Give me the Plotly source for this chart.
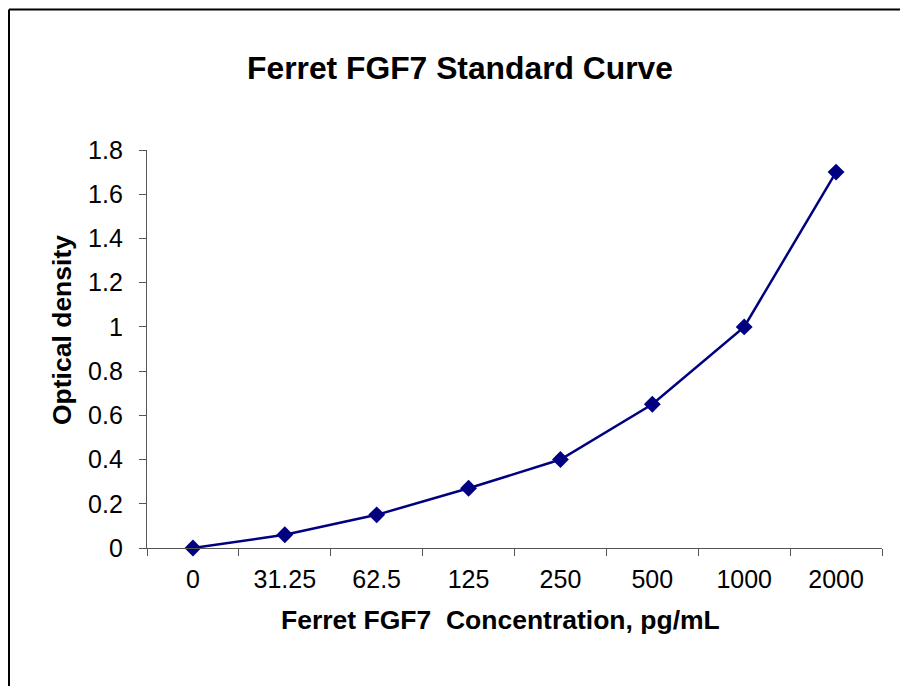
import plotly.graph_objects as go

categories = ["0", "31.25", "62.5", "125", "250", "500", "1000", "2000"]
optical_density = [0.0, 0.06, 0.15, 0.27, 0.40, 0.65, 1.00, 1.70]
y_ticks = [0, 0.2, 0.4, 0.6, 0.8, 1, 1.2, 1.4, 1.6, 1.8]
y_tick_labels = ["0", "0.2", "0.4", "0.6", "0.8", "1", "1.2", "1.4", "1.6", "1.8"]

FONT = "Liberation Sans, Arial, sans-serif"
NAVY = "#000080"
AXIS = "#555555"

W, H = 900, 686
fig = go.Figure()
fig.add_trace(go.Scatter(
    x=categories, y=optical_density, mode="lines+markers",
    line=dict(color=NAVY, width=2.5),
    marker=dict(symbol="diamond", size=13, color=NAVY),
    showlegend=False, cliponaxis=False,
))

x_left = -(147 - 9) / 735
x_right = 1 + (900 - 882) / 735
y_top = (548 - 9.5) / 398
y_bottom = -(686 - 548) / 398

fig.update_layout(
    width=W, height=H,
    margin=dict(l=147, r=18, t=150, b=138),
    paper_bgcolor="white", plot_bgcolor="white",
    font=dict(family=FONT, color="black", size=25),
    title=dict(text="<b>Ferret FGF7 Standard Curve</b>", x=460 / W, xanchor="center",
               y=1 - 68 / H, yanchor="middle", font=dict(size=31.8, family=FONT)),
    xaxis=dict(type="category", range=[-0.5, 7.5], tickson="boundaries",
               ticks="outside", ticklen=7, tickcolor=AXIS, tickwidth=1.3,
               showline=True, linecolor=AXIS, linewidth=1.3, showgrid=False,
               zeroline=False, ticklabelstandoff=9, tickfont=dict(size=25)),
    yaxis=dict(range=[0, 1.8], tickvals=y_ticks, ticktext=y_tick_labels,
               ticks="outside", ticklen=7, tickcolor=AXIS, tickwidth=1.3,
               showline=True, linecolor=AXIS, linewidth=1.3, showgrid=False,
               zeroline=False, ticklabelstandoff=11, tickfont=dict(size=25)),
    annotations=[
        dict(text="<b>Ferret FGF7\u00a0 Concentration, pg/mL</b>", xref="paper", yref="paper",
             x=(500 - 147) / 735, y=-(620 - 548) / 398, xanchor="center", yanchor="middle",
             showarrow=False, font=dict(size=26.5)),
        dict(text="<b>Optical density</b>", xref="paper", yref="paper",
             x=-(147 - 62) / 735, y=(548 - 330) / 398, xanchor="center", yanchor="middle",
             textangle=-90, showarrow=False, font=dict(size=26.5)),
    ],
    shapes=[
        dict(type="line", xref="paper", yref="paper",
             x0=x_left, x1=x_left, y0=y_bottom, y1=y_top,
             line=dict(color="black", width=2)),
        dict(type="line", xref="paper", yref="paper",
             x0=x_left, x1=x_right, y0=y_top, y1=y_top,
             line=dict(color="black", width=2)),
    ],
)

fig.write_html(
    "out.html",
    config={"displayModeBar": False},
    post_script=("document.body.style.margin='0';document.body.style.overflow='hidden';"
                 "document.documentElement.style.overflow='hidden';"),
)
